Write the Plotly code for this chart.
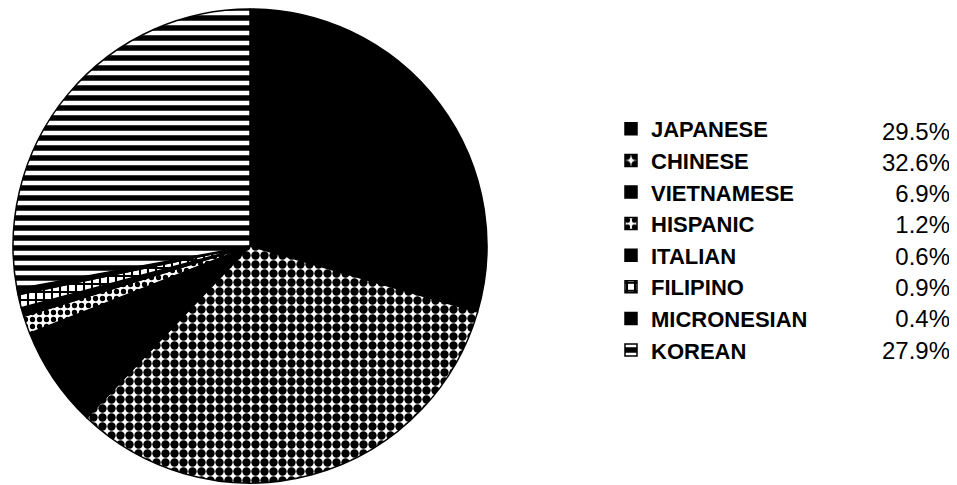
import plotly.graph_objects as go

labels = ["JAPANESE", "CHINESE", "VIETNAMESE", "HISPANIC", "ITALIAN", "FILIPINO", "MICRONESIAN", "KOREAN"]
values = [29.5, 32.6, 6.9, 1.2, 0.6, 0.9, 0.4, 27.9]
pct_text = ["29.5%", "32.6%", "6.9%", "1.2%", "0.6%", "0.9%", "0.4%", "27.9%"]

W, H = 957, 485
OFF = 8  # page body margin offset

shapes = ["", ".", "", ".", "", "+", "", "-"]
fg = ["black", "black", "black", "black", "black", "black", "black", "white"]
bg = ["black", "white", "black", "white", "black", "white", "black", "black"]
size = [8, 9, 8, 7, 8, 8, 8, 10]
solid = [0.5, 0.68, 0.5, 0.45, 0.5, 0.45, 0.5, 0.45]

fig = go.Figure()
fig.add_trace(go.Pie(
    labels=labels,
    values=values,
    sort=False,
    direction="clockwise",
    rotation=0,
    textinfo="none",
    hoverinfo="skip",
    marker=dict(
        colors=bg,
        line=dict(color="black", width=1.5),
        pattern=dict(shape=shapes, fgcolor=fg, bgcolor=bg, size=size, solidity=solid, fillmode="replace"),
    ),
    domain=dict(x=[(13 - OFF) / W, (487 - OFF) / W], y=[1 - (483 - OFF) / H, 1 - (9 - OFF) / H]),
    showlegend=True,
))

row0 = 131 - OFF
dy = 31.3
annotations = []
for i, t in enumerate(pct_text):
    annotations.append(dict(
        text=t, x=(952 - OFF) / W, y=1 - (row0 + i * dy) / H, xref="paper", yref="paper",
        xanchor="right", yanchor="middle", showarrow=False, width=110, align="right",
        font=dict(family="Liberation Sans", size=24, color="black"),
    ))

fig.update_layout(
    width=W, height=H,
    margin=dict(l=0, r=0, t=0, b=0),
    paper_bgcolor="white",
    plot_bgcolor="white",
    showlegend=True,
    legend=dict(
        x=(611 - OFF) / W, y=1 - (108 - OFF) / H, xanchor="left", yanchor="top",
        font=dict(family="Liberation Sans", size=22, color="black", weight="bold"),
        bgcolor="rgba(0,0,0,0)",
        itemclick=False, itemdoubleclick=False,
    ),
    annotations=annotations,
)

fig.write_html("out.html")
